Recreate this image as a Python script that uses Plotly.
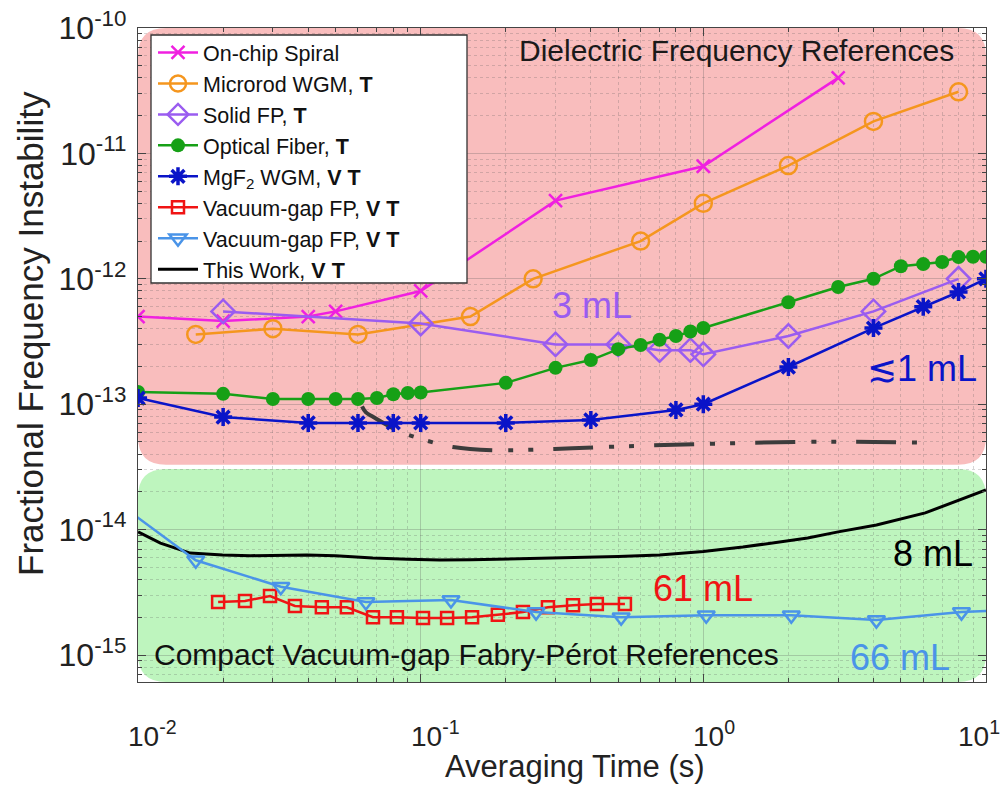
import math
import plotly.graph_objects as go

# ---------------- data ----------------
spiral_x = [0.01, 0.02, 0.04, 0.05, 0.1, 0.3, 1, 3]
spiral_y = [5.0e-13, 4.6e-13, 5.0e-13, 5.5e-13, 8.0e-13, 4.2e-12, 7.9e-12, 4.0e-11]

microrod_x = [0.016, 0.03, 0.06, 0.15, 0.25, 0.6, 1, 2, 4, 8]
microrod_y = [3.6e-13, 4.0e-13, 3.6e-13, 5.0e-13, 1.0e-12, 2.0e-12, 4.0e-12, 8.0e-12, 1.8e-11, 3.1e-11]

solidfp_x = [0.02, 0.1, 0.3, 0.5, 0.7, 0.9, 1, 2, 4, 8]
solidfp_y = [5.5e-13, 4.4e-13, 3.0e-13, 3.0e-13, 2.7e-13, 2.7e-13, 2.5e-13, 3.5e-13, 5.5e-13, 1.0e-12]

fiber_x = [0.01, 0.02, 0.03, 0.04, 0.05, 0.06, 0.07, 0.08, 0.09, 0.1, 0.2, 0.3, 0.4, 0.5,
           0.6, 0.7, 0.8, 0.9, 1, 2, 3, 4, 5, 6, 7, 8, 9, 10]
fiber_y = [1.25e-13, 1.21e-13, 1.10e-13, 1.10e-13, 1.10e-13, 1.10e-13, 1.12e-13, 1.20e-13,
           1.23e-13, 1.24e-13, 1.48e-13, 1.95e-13, 2.25e-13, 2.75e-13, 2.97e-13, 3.27e-13,
           3.5e-13, 3.8e-13, 4.05e-13, 6.5e-13, 8.6e-13, 1.0e-12, 1.26e-12, 1.31e-12,
           1.36e-12, 1.49e-12, 1.5e-12, 1.5e-12]

mgf2_x = [0.01, 0.02, 0.04, 0.06, 0.08, 0.1, 0.2, 0.4, 0.8, 1, 2, 4, 6, 8, 10]
mgf2_y = [1.12e-13, 7.9e-14, 7.1e-14, 7.1e-14, 7.1e-14, 7.1e-14, 7.1e-14, 7.5e-14, 9.0e-14,
          1.0e-13, 1.98e-13, 4.05e-13, 6.0e-13, 7.85e-13, 1.0e-12]

vgfp61_x = [0.0192, 0.0239, 0.0293, 0.0359, 0.0447, 0.0548, 0.0678, 0.0824, 0.1019, 0.124,
            0.152, 0.1875, 0.230, 0.282, 0.346, 0.42, 0.528]
vgfp61_y = [2.65e-15, 2.7e-15, 2.95e-15, 2.46e-15, 2.4e-15, 2.4e-15, 2.0e-15, 2.0e-15,
            1.97e-15, 1.97e-15, 2.0e-15, 2.1e-15, 2.2e-15, 2.4e-15, 2.5e-15, 2.55e-15, 2.55e-15]

vgfp66_x = [0.008, 0.016, 0.032, 0.064, 0.128, 0.256, 0.512, 1.024, 2.048, 4.096, 8.192, 16.384]
vgfp66_y = [1.8e-14, 5.7e-15, 3.5e-15, 2.65e-15, 2.75e-15, 2.2e-15, 2.0e-15, 2.08e-15,
            2.08e-15, 1.9e-15, 2.2e-15, 2.35e-15]

thiswork_x = [0.01, 0.0102, 0.012, 0.0153, 0.0199, 0.025, 0.0396, 0.05, 0.0677, 0.09, 0.117,
              0.15, 0.202, 0.311, 0.397, 0.5, 0.70, 1.0, 1.38, 2.34, 3.0, 4.1, 6.1, 8.0, 10]
thiswork_y = [9.6e-15, 9.4e-15, 7.8e-15, 6.5e-15, 6.27e-15, 6.2e-15, 6.27e-15, 6.2e-15,
              5.94e-15, 5.8e-15, 5.73e-15, 5.75e-15, 5.83e-15, 5.94e-15, 6.04e-15, 6.1e-15,
              6.27e-15, 6.7e-15, 7.26e-15, 8.57e-15, 9.6e-15, 1.09e-14, 1.36e-14, 1.7e-14, 2.07e-14]

dashdot_x = [0.062, 0.064, 0.068, 0.0825, 0.1, 0.13, 0.18, 0.298, 0.5, 0.94, 2.16, 4.0, 5.7]
dashdot_y = [9.6e-14, 8.6e-14, 7.9e-14, 6.2e-14, 5.3e-14, 4.56e-14, 4.3e-14, 4.4e-14,
             4.6e-14, 4.8e-14, 5.0e-14, 5.0e-14, 4.95e-14]

x_ticks = [0.01, 0.1, 1, 10]
x_ticktext = ["10<sup>-2</sup>", "10<sup>-1</sup>", "10<sup>0</sup>", "10<sup>1</sup>"]
y_ticks = [1e-15, 1e-14, 1e-13, 1e-12, 1e-11, 1e-10]
y_ticktext = ["10<sup>-15</sup>", "10<sup>-14</sup>", "10<sup>-13</sup>",
              "10<sup>-12</sup>", "10<sup>-11</sup>", "10<sup>-10</sup>"]

x_minor = [m * 10 ** e for e in (-2, -1, 0) for m in range(2, 10)]
y_minor = [m * 10 ** e for e in (-16, -15, -14, -13, -12, -11) for m in range(2, 10)]

FONT = "Liberation Sans, Arial, sans-serif"

fig = go.Figure()

# dash-dot curve (not in legend)
fig.add_trace(go.Scatter(x=dashdot_x, y=dashdot_y, mode="lines", showlegend=False,
                         line=dict(color="#3c3c3c", width=4, shape="spline",
                                   dash="40px,16px,5px,15px,5px,20px")))

fig.add_trace(go.Scatter(x=spiral_x, y=spiral_y, mode="lines+markers", name="On-chip Spiral",
                         line=dict(color="#F020E0", width=2.5),
                         marker=dict(symbol="x-thin", size=13,
                                     line=dict(color="#F020E0", width=2.5))))
fig.add_trace(go.Scatter(x=microrod_x, y=microrod_y, mode="lines+markers",
                         name="Microrod WGM, <b>T</b>",
                         line=dict(color="#F5961E", width=2.5),
                         marker=dict(symbol="circle-open", size=17,
                                     line=dict(color="#F5961E", width=2.5))))
fig.add_trace(go.Scatter(x=solidfp_x, y=solidfp_y, mode="lines+markers",
                         name="Solid FP, <b>T</b>",
                         line=dict(color="#9A5CF0", width=2.5),
                         marker=dict(symbol="diamond-open", size=18,
                                     line=dict(color="#9A5CF0", width=2.5))))
fig.add_trace(go.Scatter(x=fiber_x, y=fiber_y, mode="lines+markers",
                         name="Optical Fiber, <b>T</b>",
                         line=dict(color="#16A016", width=2.5),
                         marker=dict(symbol="circle", size=14, color="#16A016")))
fig.add_trace(go.Scatter(x=mgf2_x, y=mgf2_y, mode="lines+markers",
                         name="MgF<sub>2</sub> WGM, <b>V T</b>",
                         line=dict(color="#0A14C8", width=2.5),
                         marker=dict(symbol="asterisk", size=15,
                                     line=dict(color="#0A14C8", width=3.5))))
fig.add_trace(go.Scatter(x=thiswork_x, y=thiswork_y, mode="lines", showlegend=False,
                         line=dict(color="black", width=3)))
fig.add_trace(go.Scatter(x=vgfp61_x, y=vgfp61_y, mode="lines+markers",
                         name="Vacuum-gap FP, <b>V T</b>",
                         line=dict(color="#F01414", width=2.5),
                         marker=dict(symbol="square-open", size=12,
                                     line=dict(color="#F01414", width=2.5))))
fig.add_trace(go.Scatter(x=vgfp66_x, y=vgfp66_y, mode="lines+markers",
                         name="Vacuum-gap FP, <b>V T</b>",
                         line=dict(color="#4A94E8", width=2.5),
                         marker=dict(symbol="triangle-down-open", size=15,
                                     line=dict(color="#4A94E8", width=2.5))))
# legend entry for This Work (line drawn above)
fig.add_trace(go.Scatter(x=[None], y=[None], mode="lines", name="This Work, <b>V T</b>",
                         line=dict(color="black", width=3)))


def rrect(x0, y0, x1, y1, rx, ry):
    return (f"M {x0 + rx},{y0} L {x1 - rx},{y0} Q {x1},{y0} {x1},{y0 + ry} "
            f"L {x1},{y1 - ry} Q {x1},{y1} {x1 - rx},{y1} L {x0 + rx},{y1} "
            f"Q {x0},{y1} {x0},{y1 - ry} L {x0},{y0 + ry} Q {x0},{y0} {x0 + rx},{y0} Z")


PW, PH = 848, 654   # plot area in px (for paper-coordinate conversion)
rx, ry = 28 / PW, 28 / PH
fig.add_shape(type="path", xref="paper", yref="paper", layer="below",
              path=rrect(0, 0.332, 1, 1, rx, ry), fillcolor="#F9BDBD", line=dict(width=0))
fig.add_shape(type="path", xref="paper", yref="paper", layer="below",
              path=rrect(0, 0, 1, 0.3257, rx, ry), fillcolor="#BEF5BE", line=dict(width=0))
# legend box (drawn as a shape so its size matches the reference)
fig.add_shape(type="rect", xref="paper", yref="paper", layer="above",
              x0=13 / PW, x1=329 / PW, y0=1 - 255 / PH, y1=1 - 7 / PH,
              fillcolor="white", line=dict(color="#333", width=1.3))

annos = [
    dict(text="Dielectric Frequency References", x=0.706, y=0.966, size=30, color="#1a1a1a"),
    dict(text="3 mL", x=0.535, y=0.575, size=36, color="#9A5CF0"),
    dict(text="≲1 mL", x=0.9245, y=0.480, size=36, color="#0A14C8"),
    dict(text="8 mL", x=0.9375, y=0.197, size=36, color="black"),
    dict(text="61 mL", x=0.666, y=0.1437, size=36, color="#F01414"),
    dict(text="66 mL", x=0.8986, y=0.038, size=36, color="#4A94E8"),
]
for a in annos:
    fig.add_annotation(text=a["text"], x=a["x"], y=a["y"], xref="paper", yref="paper",
                       showarrow=False, xanchor="center", yanchor="middle",
                       font=dict(family=FONT, size=a["size"], color=a["color"]))
fig.add_annotation(text="Compact Vacuum-gap Fabry-Pérot References", x=0.0165, y=0.0413,
                   xref="paper", yref="paper", showarrow=False, xanchor="left",
                   yanchor="middle", font=dict(family=FONT, size=30, color="#111"))
# axis titles
fig.add_annotation(text="Averaging Time (s)", x=(575 - 138) / PW, y=(682 - 766) / PH,
                   xref="paper", yref="paper", showarrow=False, xanchor="center",
                   yanchor="middle", font=dict(family=FONT, size=31, color="#222"))
fig.add_annotation(text="Fractional Frequency Instability", x=(30 - 138) / PW,
                   y=(682 - 334) / PH, xref="paper", yref="paper", showarrow=False,
                   textangle=-90, xanchor="center", yanchor="middle",
                   font=dict(family=FONT, size=35, color="#222"))
# x tick labels (placed as in the reference: base "10" over the tick, last one kept inside)
for i, (tv, tt) in enumerate(zip(x_ticks, x_ticktext)):
    last = i == len(x_ticks) - 1
    fig.add_annotation(text=tt, x=math.log10(tv), xref="x", y=(682 - 734) / PH, yref="paper",
                       showarrow=False, xanchor="right" if last else "left",
                       xshift=16 if last else -12, yanchor="middle",
                       font=dict(family=FONT, size=28, color="#222"))

axis_common = dict(type="log", showline=True, mirror="allticks", linecolor="#444",
                   linewidth=1.2, ticks="inside", ticklen=8, tickcolor="#444",
                   showgrid=True, gridcolor="rgba(90,90,90,0.28)", gridwidth=1,
                   zeroline=False, automargin=False,
                   tickfont=dict(family=FONT, size=32, color="#222"))

fig.update_xaxes(**axis_common, range=[-2.0002, 1.0002], tickvals=x_ticks,
                 showticklabels=False,
                 minor=dict(tickvals=x_minor, ticks="inside", ticklen=4, tickcolor="#444",
                            showgrid=True, gridcolor="rgba(90,90,90,0.25)", griddash="dot"))
fig.update_yaxes(**axis_common, range=[-15.215, -10], tickvals=y_ticks, ticktext=y_ticktext,
                 ticklabelstandoff=4,
                 minor=dict(tickvals=y_minor, ticks="inside", ticklen=4, tickcolor="#444",
                            showgrid=True, gridcolor="rgba(90,90,90,0.25)", griddash="dot"))

fig.update_layout(
    width=1006, height=787, autosize=False,
    margin=dict(l=138, r=20, t=28, b=105),
    paper_bgcolor="white", plot_bgcolor="rgba(0,0,0,0)",
    font=dict(family=FONT, color="#222"),
    legend=dict(x=15 / PW, y=1 - 4 / PH, xanchor="left", yanchor="top",
                bgcolor="rgba(0,0,0,0)", borderwidth=0, tracegroupgap=0, itemwidth=40,
                font=dict(family=FONT, size=21.5, color="#111")),
)

fig.write_html("out.html")
